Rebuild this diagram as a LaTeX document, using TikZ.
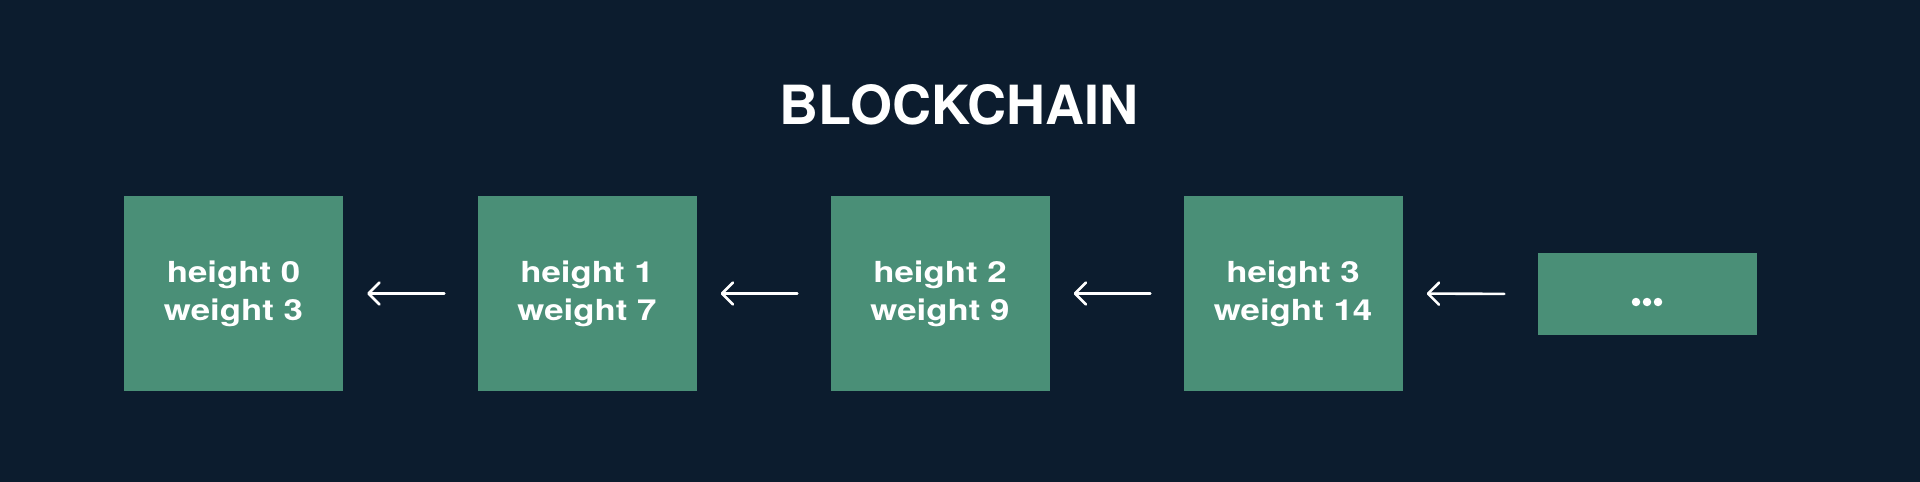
\documentclass[tikz,border=0pt]{standalone}
\usepackage{fontspec}
\setmainfont{TeX Gyre Heros}
\newfontfamily\boxfont[FakeStretch=1.2]{TeX Gyre Heros}
\usetikzlibrary{arrows.meta}
\definecolor{bg}{HTML}{0C1C2E}
\definecolor{boxg}{HTML}{4A8F77}
\tikzset{
  blk/.style={fill=boxg, draw=none, minimum width=219pt, minimum height=195pt, inner sep=0pt,
    text=white, font=\boxfont\fontsize{29}{38}\selectfont\bfseries, align=center},
  dotsbox/.style={fill=boxg, draw=none, minimum width=219pt, minimum height=82pt, inner sep=0pt},
  dot/.style={fill=white, draw=none, circle, minimum size=8.5pt, inner sep=0pt},
  arr/.style={draw=white, line width=2.6pt, line cap=round,
    -{Straight Barb[length=11pt, width=22pt, line cap=round, line join=round]},
    shorten >=24pt, shorten <=33pt},
}
\begin{document}
\begin{tikzpicture}[x=1pt,y=-1pt]
\fill[bg] (0,0) rectangle (1920,482);
\useasboundingbox (0,0) rectangle (1920,482);
\node[text=white, font=\fontsize{54}{60}\selectfont\bfseries] (title) at (959,105) {BLOCKCHAIN};
\node[blk] (b0) at (233.5,293.5) {height 0\\weight 3};
\node[blk] (b1) at (587,293.5) {height 1\\weight 7};
\node[blk] (b2) at (940,293.5) {height 2\\weight 9};
\node[blk] (b3) at (1293,293.5) {height 3\\weight 14};
\node[dotsbox] (b4) at (1647,294) {};
\node[dot] (d1) at ([xshift=-11pt,yshift=-8pt]b4.center) {};
\node[dot] (d2) at ([yshift=-8pt]b4.center) {};
\node[dot] (d3) at ([xshift=11pt,yshift=-8pt]b4.center) {};
\draw[arr] (b1.west) -- (b0.east);
\draw[arr] (b2.west) -- (b1.east);
\draw[arr] (b3.west) -- (b2.east);
\draw[arr] (b4.west) -- (b3.east);
\end{tikzpicture}
\end{document}
